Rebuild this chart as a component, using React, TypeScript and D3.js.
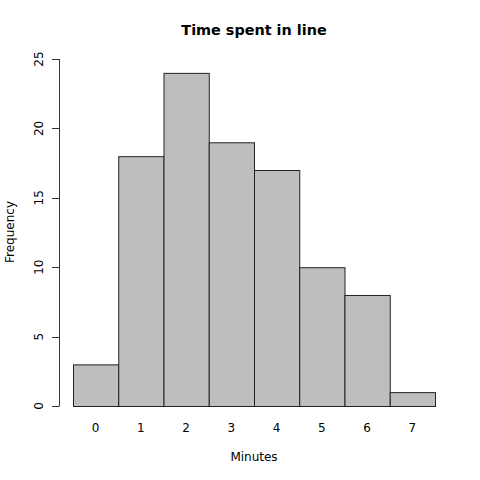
import React from "react";
import * as d3 from "d3";

const categories = ["0", "1", "2", "3", "4", "5", "6", "7"];
const frequencies = [3, 18, 24, 19, 17, 10, 8, 1];
const yTicks = [0, 5, 10, 15, 20, 25];
const title = "Time spent in line";
const xLabel = "Minutes";
const yLabel = "Frequency";

export default function App() {
  const W = 480, H = 480;
  const x = d3.scaleBand<string>().domain(categories).range([73, 435]).paddingInner(0).paddingOuter(0);
  const y = d3.scaleLinear().domain([0, 25]).range([406, 59]);
  const font = "'DejaVu Sans', sans-serif";
  return (
    <svg width={W} height={H} style={{ position: "absolute", left: 0, top: 0, background: "#fff" }} fontFamily={font}>
      <text x={254} y={35} textAnchor="middle" fontSize={14.4} fontWeight="bold">{title}</text>
      {categories.map((c, i) => (
        <rect key={c} x={x(c)! + 0.5} y={y(frequencies[i]) + 0.5} width={x.bandwidth()} height={y(0) - y(frequencies[i])}
          fill="#bebebe" stroke="#222" strokeWidth={1} />
      ))}
      <line x1={59.5} x2={59.5} y1={y(0)} y2={y(25)} stroke="#333" />
      {yTicks.map(t => (
        <g key={t}>
          <line x1={52} x2={59.5} y1={Math.round(y(t)) + 0.5} y2={Math.round(y(t)) + 0.5} stroke="#333" />
          <text transform={`translate(${43},${y(t)}) rotate(-90)`} textAnchor="middle" fontSize={12}>{t}</text>
        </g>
      ))}
      {categories.map(c => (
        <text key={c} x={x(c)! + x.bandwidth() / 2} y={432} textAnchor="middle" fontSize={12}>{c}</text>
      ))}
      <text x={254} y={461} textAnchor="middle" fontSize={12}>{xLabel}</text>
      <text transform={`translate(14,232) rotate(-90)`} textAnchor="middle" fontSize={12}>{yLabel}</text>
    </svg>
  );
}
